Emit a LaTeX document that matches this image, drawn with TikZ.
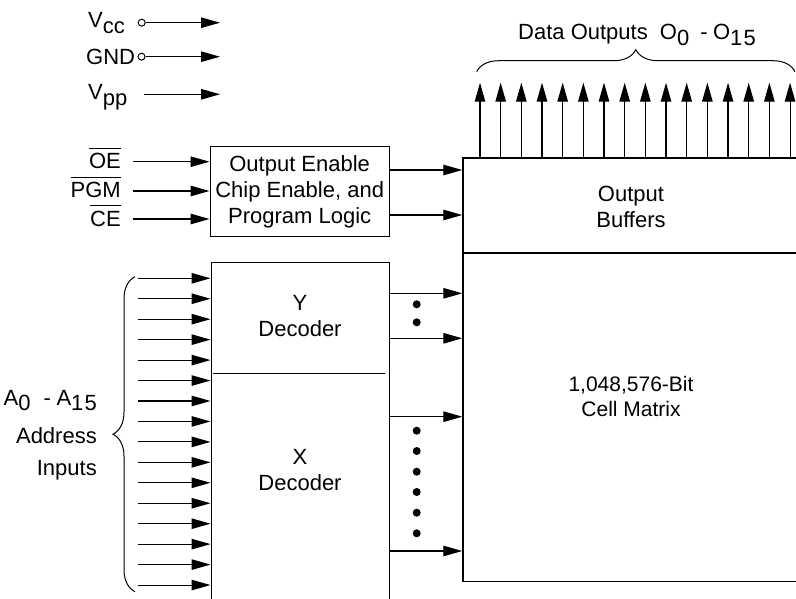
\documentclass[tikz,border=0pt]{standalone}
\usepackage{fontspec}
\setmainfont{Liberation Sans}
\usetikzlibrary{arrows.meta,decorations.pathreplacing}
\newcommand\mysub[1]{\raisebox{-0.27em}{#1}}
\newcommand\ovl[1]{\vbox{\hrule height 1pt\kern 4.5pt\hbox{#1}}}
\begin{document}
\begin{tikzpicture}[x=1pt,y=-1pt,
  lbl/.style={font=\fontsize{22}{26}\selectfont, inner sep=0pt},
  txt/.style={lbl, align=center},
  box/.style={draw, line width=1.3pt, inner sep=0pt},
  wire/.style={line width=1.1pt},
  arr/.style={wire, -{Triangle[length=19pt,width=10.5pt]}},
  pin/.style={circle, draw, line width=1pt, minimum size=7pt, inner sep=0pt, fill=white},
  dot/.style={circle, fill, minimum size=8pt, inner sep=0pt},
  brc/.style={line width=1pt, decorate, decoration={brace, amplitude=22pt}},
]
\useasboundingbox (0,0) rectangle (796,599);

% power pins
\node[lbl, anchor=base west] (vcc) at (88,28) {V\mysub{cc}};
\node[pin] (p1) at (141.7,22.7) {};
\coordinate (pe1) at (220,22.7);
\draw[arr] (p1) -- (pe1);
\node[lbl, anchor=base west] (gnd) at (86,65) {GND};
\node[pin] (p2) at (141.5,56.7) {};
\coordinate (pe2) at (220,56.7);
\draw[arr] (p2) -- (pe2);
\node[lbl, anchor=base west] (vpp) at (88,100) {V\mysub{pp}};
\coordinate (ps3) at (144,94.3);
\coordinate (pe3) at (220,94.3);
\draw[arr] (ps3) -- (pe3);

% control logic
\node[box, txt, anchor=north west, minimum width=179pt, minimum height=90pt] (ctl) at (209.5,145.7)
  {Output Enable\\Chip Enable, and\\Program Logic};
\node[lbl, anchor=base east] (oe) at (121,169) {\ovl{OE}};
\node[lbl, anchor=base east] (pgm) at (121,198) {\ovl{PGM}};
\node[lbl, anchor=base east] (ce) at (121,226) {\ovl{CE}};
\foreach \n/\yy in {1/161.7,2/191,3/219} {
  \coordinate (ci\n) at (133,\yy);
  \draw[arr] (ci\n) -- (ci\n -| ctl.west);
}

% memory block
\node[box, anchor=north west, minimum width=360pt, minimum height=423.5pt] (mem) at (462.3,157.5) {};
\draw[line width=1.3pt] (462.3,253) -- (800,253);
\node[txt] (obuf) at (631,207) {Output\\Buffers};
\node[txt, font=\fontsize{21}{25}\selectfont] (cell) at (631,396) {1,048,576-Bit\\Cell Matrix};

\foreach \n/\yy in {1/170,2/215} {
  \coordinate (co\n) at (420,\yy);
  \draw[arr] (co\n -| ctl.east) -- (co\n -| mem.west);
}

% data outputs
\foreach \i in {0,...,15} {
  \coordinate (o\i) at ({480+20.67*\i},82.7);
  \draw[arr] (o\i |- mem.north) -- (o\i);
}
\draw[brc] (476.7,71.7) -- (795,71.7);
\node[lbl, anchor=base west] (dout) at (518,40)
  {Data Outputs\hspace{0.55em}O\mysub{0}\hspace{0.5em}-\hspace{0.25em}O\mysub{1\hspace{0.05em}5}};

% decoders
\node[box, anchor=north west, minimum width=178pt, minimum height=360pt] (dec) at (210.5,261.5) {};
\draw[line width=1.1pt] (213,373.5) -- (385,373.5);
\node[txt] (ytxt) at (300,316) {Y\\Decoder};
\node[txt] (xtxt) at (300,470) {X\\Decoder};

\foreach \i in {0,...,15} {
  \coordinate (a\i) at (138.3,{278.3+20.45*\i});
  \draw[arr] (a\i) -- (a\i -| dec.west);
}
\draw[brc] (135,591.7) -- (135,276.7);
\node[lbl, anchor=base east] (alab) at (97,405)
  {A\mysub{0}\hspace{0.6em}-\hspace{0.25em}A\mysub{1\hspace{0.05em}5}};
\node[lbl, anchor=base east] (addr) at (97,443) {Address};
\node[lbl, anchor=base east] (inp) at (97,475) {Inputs};

\foreach \n/\yy in {1/293.3,2/338.3,3/416.7,4/551} {
  \coordinate (d\n) at (420,\yy);
  \draw[arr] (d\n -| dec.east) -- (d\n -| mem.west);
}
\foreach \n/\yy in {1/304.3,2/322.3,3/430.7,4/451,5/471.7,6/492,7/512.7,8/533.3}
  \node[dot] (dt\n) at (416.7,\yy) {};
\end{tikzpicture}
\end{document}
